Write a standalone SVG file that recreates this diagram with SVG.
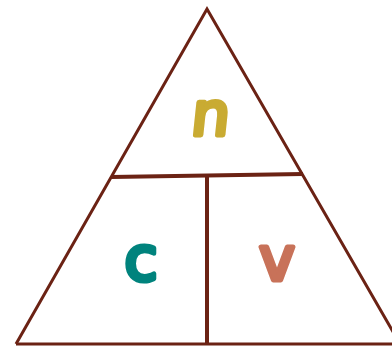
<svg xmlns="http://www.w3.org/2000/svg" width="392" height="346" viewBox="0 0 392 346">
<style>
.edge{stroke:#6b2214;fill:none;stroke-linecap:butt;stroke-linejoin:miter}
.lbl{font-family:"DejaVu Sans",sans-serif;font-weight:normal;font-size:60px;text-anchor:middle;stroke-width:5;stroke-linejoin:round;stroke-linecap:round;paint-order:stroke}
</style>
<rect width="392" height="346" fill="#ffffff"/>
<g id="connectors">
<polyline class="edge" stroke-width="3" points="16,344 207,9 400,344"/>
<line class="edge" stroke-width="3" x1="16" y1="344" x2="392" y2="344"/>
<line class="edge" stroke-width="4" x1="111" y1="177" x2="303" y2="174"/>
<line class="edge" stroke-width="4" x1="207" y1="176" x2="207" y2="345"/>
</g>
<g id="node-n"><text class="lbl" x="209" y="135" fill="#c9ab32" stroke="#c9ab32" transform="translate(209 135) skewX(-6) translate(-209 -135)">n</text></g>
<g id="node-c"><text class="lbl" x="141" y="280" fill="#00837d" stroke="#00837d">c</text></g>
<g id="node-v"><text class="lbl" x="277" y="280" fill="#c87259" stroke="#c87259">v</text></g>
</svg>
